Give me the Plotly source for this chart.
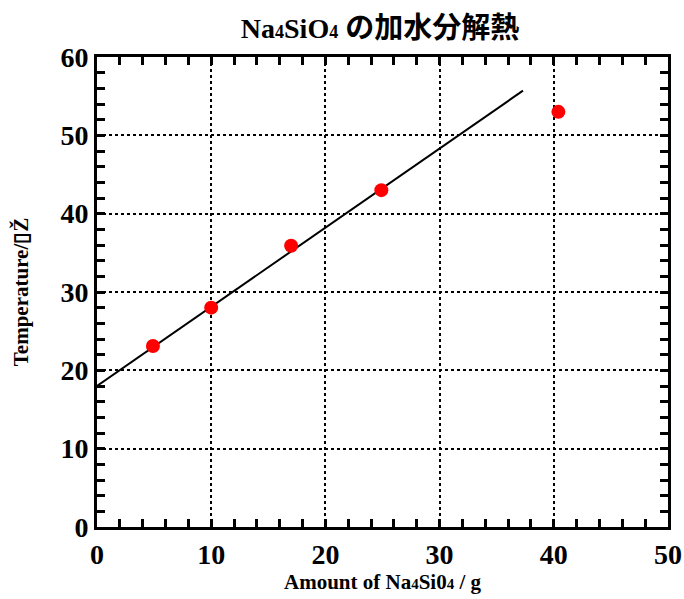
import plotly.graph_objects as go

amount = [4.9, 10.0, 17.0, 24.9, 40.4]
temperature = [23.1, 28.0, 35.9, 43.0, 53.0]
fit_x = [0.0, 37.3]
fit_y = [18.0, 55.7]

fig = go.Figure()
fig.add_trace(go.Scatter(x=fit_x, y=fit_y, mode="lines",
                         line=dict(color="black", width=2), showlegend=False))
fig.add_trace(go.Scatter(x=amount, y=temperature, mode="markers",
                         marker=dict(color="#ff0000", size=14), showlegend=False))

serif = "Liberation Serif, Times New Roman, serif"
axis_common = dict(
    showline=True, linecolor="black", linewidth=3, mirror="ticks",
    ticks="inside", ticklen=8, tickwidth=3, tickcolor="black",
    showgrid=True, gridcolor="black", gridwidth=2, griddash="dot",
    zeroline=False, automargin=False,
    tickfont=dict(family=serif, size=28, color="black", weight="bold"),
    minor=dict(ticks="inside", ticklen=8, tickwidth=3, tickcolor="black", showgrid=False),
)

sub = '<span style="font-size:15px">4</span>'
fig.update_xaxes(range=[0, 50], dtick=10, minor_dtick=2, **axis_common,
                 title=dict(text=f"Amount of Na{sub}Si0{sub} / g",
                            font=dict(family=serif, size=21, color="black", weight="bold"),
                            standoff=2))
fig.update_yaxes(range=[0, 60], dtick=10, minor_dtick=2, **axis_common,
                 title=dict(text="Temperature/\u25afŽ",
                            font=dict(family=serif, size=21, color="black", weight="bold"),
                            standoff=27))

W, H = 684, 599
sub_t = '<span style="font-size:18px">4</span>'
fig.update_layout(
    width=W, height=H,
    margin=dict(l=97, r=16, t=57, b=72),
    plot_bgcolor="white", paper_bgcolor="white",
    hovermode=False,
    title=dict(text=f"Na{sub_t}SiO{sub_t} <span style=\"font-family:Noto Sans CJK JP;font-size:29px\">の加水分解熱</span>",
               x=380 / W, xanchor="center", xref="container",
               y=1 - 28 / H, yanchor="middle",
               font=dict(family=serif, size=28, color="black", weight="bold")),
)

fig.write_html("out.html", config={"displayModeBar": False},
               post_script="document.body.style.margin='0';document.body.style.overflow='hidden';")
